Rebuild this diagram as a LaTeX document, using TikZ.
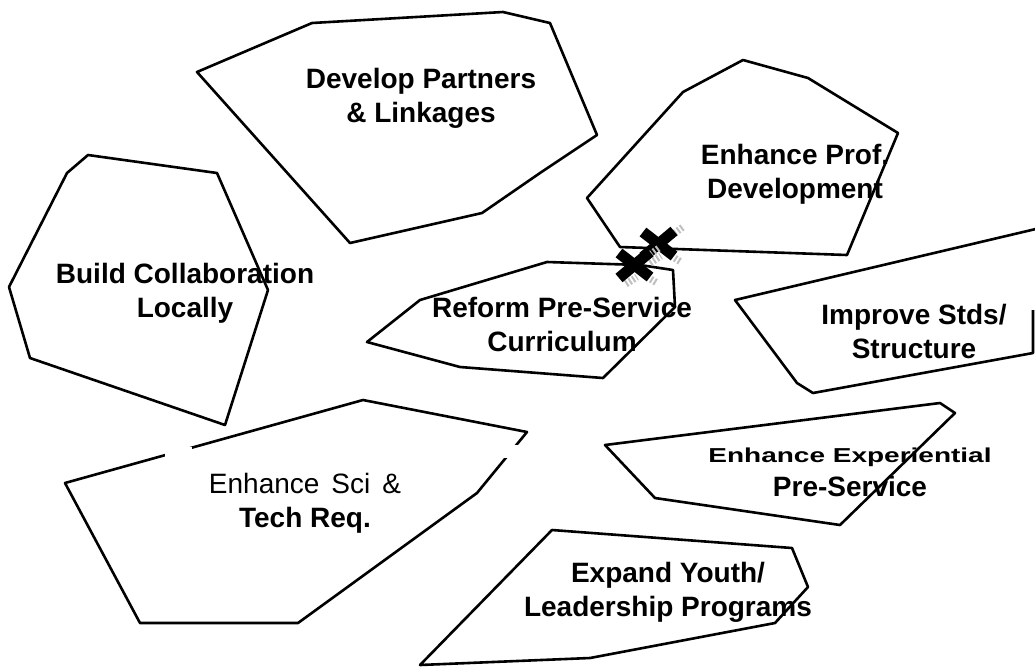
\documentclass[tikz,border=0pt]{standalone}
\usepackage{fontspec}
\setmainfont{Liberation Sans}
\begin{document}
\begin{tikzpicture}[x=0.5pt,y=-0.5pt,
    area/.style={line width=1.3pt,line join=round},
    lbl/.style={font=\bfseries\fontsize{14}{17}\selectfont,align=center,inner sep=0pt},
    xmark/.style={line width=5.5pt},
    xshade/.style={line width=3.5pt,gray!50,dash pattern=on 1pt off 1pt}]
  \useasboundingbox (0,0) rectangle (1035,666);
  \begin{scope}
    \clip (0,0) rectangle (1035,666);
    \draw[area] (197,72) -- (312,23) -- (503,12) -- (550,23) -- (597,135)
      -- (540,173) -- (482,213) -- (350,243) -- cycle;
    \draw[area] (587,198) -- (683,92) -- (743,60) -- (808,78) -- (898,133)
      -- (847,255) -- (620,247) -- cycle;
    \draw[area] (88,155) -- (217,173) -- (268,290) -- (225,425) -- (30,358)
      -- (9,287) -- (67,173) -- cycle;
    \draw[area] (367,342) -- (420,300) -- (547,262) -- (640,265) -- (673,270)
      -- (675,307) -- (603,378) -- (460,367) -- cycle;
    \draw[area] (1033,310) -- (1033,353) -- (813,393) -- (797,383) -- (735,300)
      -- (1040,228);
    \draw[area] (605,445) -- (940,403) -- (955,413) -- (840,525) -- (655,498) -- cycle;
    \draw[area] (65,483) -- (363,400) -- (527,432) -- (477,493) -- (298,623)
      -- (140,623) -- cycle;
    \draw[area] (552,530) -- (792,548) -- (808,587) -- (775,623) -- (590,658)
      -- (420,665) -- cycle;
  \end{scope}
  % gaps in the scan
  \fill[white] (165,447) rectangle (192,457);
  \fill[white] (503,445) rectangle (518,458);
  % the two crosses
  \coordinate (xa) at (659,244);
  \coordinate (xb) at (635,265);
  \foreach \c in {xa,xb} {
    \draw[xshade] (\c) +(9,-6) -- +(24,-17);
    \draw[xshade] (\c) +(9,10) -- +(22,18);
    \draw[xshade] (\c) +(-9,19) -- +(2,12);
    \draw[xmark] (\c) +(-16,-12) -- +(15,12);
    \draw[xmark] (\c) +(15,-13) -- +(-16,13);
  }
  \draw
    (421,98) node[lbl] (partners) {Develop Partners\\\& Linkages}
    (795,174) node[lbl] (profdev) {Enhance Prof.\\Development}
    (185,293) node[lbl] (collab) {Build Collaboration\\Locally}
    (562,324) node[lbl] (reform) {Reform Pre-Service\\Curriculum}
    (914,331) node[lbl] (stds) {Improve Stds/\\Structure}
    (850,472) node[lbl] (experience) {\scalebox{1}[0.72]{Enhance Experiential}\\Pre-Service}
    (305,503) node[lbl] (scitech) {{\mdseries Enhance\hspace{6pt}Sci\hspace{6pt}\&}\\Tech Req.}
    (668,592) node[lbl] (youth) {Expand Youth/\\Leadership Programs};
\end{tikzpicture}
\end{document}
